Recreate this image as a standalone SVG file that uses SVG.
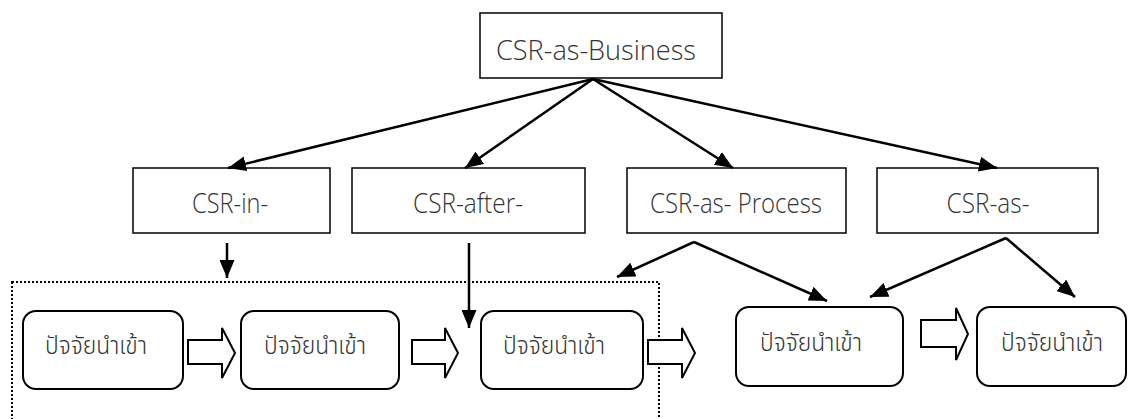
<svg xmlns="http://www.w3.org/2000/svg" width="1128" height="419" viewBox="0 0 1128 419">
<style>
.box{fill:#fff;stroke:#000;stroke-width:1.5}
.rbox{fill:#fff;stroke:#000;stroke-width:2}
.en{font-family:"Open Sans","DejaVu Sans",sans-serif;font-size:27px;font-weight:300;fill:#333}
.th{font-family:"Noto Sans Thai","Noto Sans","DejaVu Sans",sans-serif;font-size:25px;font-weight:300;fill:#333}
.ln{fill:none;stroke:#000;stroke-width:2.5}
.blk{fill:#fff;stroke:#000;stroke-width:2;stroke-linejoin:miter}
.dot{fill:none;stroke:#000;stroke-width:2;stroke-dasharray:2 2}
</style>
<defs>
<marker id="ah" viewBox="0 0 18 15" refX="18" refY="7.5" markerWidth="18" markerHeight="15" markerUnits="userSpaceOnUse" orient="auto">
<path d="M0,0 L18,7.5 L0,15 z" fill="#000"/>
</marker>
</defs>
<rect class="dot" x="12" y="282" width="647" height="160"/>
<g id="n-top">
<rect class="box" x="480" y="13" width="242" height="65"/>
<text class="en" x="596" y="60" text-anchor="middle" textLength="200" lengthAdjust="spacingAndGlyphs">CSR-as-Business</text>
</g>
<g id="n-in">
<rect class="box" x="133" y="168" width="197" height="65"/>
<text class="en" x="230" y="213" text-anchor="middle" textLength="76" lengthAdjust="spacingAndGlyphs">CSR-in-</text>
</g>
<g id="n-after">
<rect class="box" x="352" y="168" width="233" height="65"/>
<text class="en" x="468" y="213" text-anchor="middle" textLength="110" lengthAdjust="spacingAndGlyphs">CSR-after-</text>
</g>
<g id="n-process">
<rect class="box" x="627" y="168" width="219" height="65"/>
<text class="en" x="736" y="213" text-anchor="middle" textLength="172" lengthAdjust="spacingAndGlyphs">CSR-as- Process</text>
</g>
<g id="n-as">
<rect class="box" x="877" y="168" width="221" height="65"/>
<text class="en" x="988" y="213" text-anchor="middle" textLength="83" lengthAdjust="spacingAndGlyphs">CSR-as-</text>
</g>
<g id="n-b1">
<rect class="rbox" x="23" y="311" width="160" height="78" rx="13"/>
<text class="th" x="45" y="354" textLength="102" lengthAdjust="spacingAndGlyphs">ปัจจัยนำเข้า</text>
</g>
<g id="n-b2">
<rect class="rbox" x="241" y="311" width="158" height="78" rx="13"/>
<text class="th" x="264" y="354" textLength="102" lengthAdjust="spacingAndGlyphs">ปัจจัยนำเข้า</text>
</g>
<g id="n-b3">
<rect class="rbox" x="481" y="311" width="162" height="78" rx="13"/>
<text class="th" x="503" y="354" textLength="102" lengthAdjust="spacingAndGlyphs">ปัจจัยนำเข้า</text>
</g>
<g id="n-b4">
<rect class="rbox" x="736" y="307" width="167" height="79" rx="13"/>
<text class="th" x="760" y="351" textLength="102" lengthAdjust="spacingAndGlyphs">ปัจจัยนำเข้า</text>
</g>
<g id="n-b5">
<rect class="rbox" x="977" y="307" width="149" height="79" rx="13"/>
<text class="th" x="1001" y="351" textLength="102" lengthAdjust="spacingAndGlyphs">ปัจจัยนำเข้า</text>
</g>
<g id="connectors">
<line class="ln" x1="593" y1="79" x2="228" y2="168" marker-end="url(#ah)"/>
<line class="ln" x1="593" y1="79" x2="465" y2="168" marker-end="url(#ah)"/>
<line class="ln" x1="593" y1="79" x2="733" y2="168" marker-end="url(#ah)"/>
<line class="ln" x1="593" y1="79" x2="997" y2="168" marker-end="url(#ah)"/>
<line class="ln" x1="227" y1="243" x2="227" y2="278" marker-end="url(#ah)"/>
<line class="ln" x1="469" y1="243" x2="469" y2="328" marker-end="url(#ah)"/>
<line class="ln" x1="694" y1="242" x2="617" y2="277" marker-end="url(#ah)"/>
<line class="ln" x1="694" y1="242" x2="827" y2="301" marker-end="url(#ah)"/>
<line class="ln" x1="1006" y1="238" x2="870" y2="297" marker-end="url(#ah)"/>
<line class="ln" x1="1006" y1="238" x2="1075" y2="297" marker-end="url(#ah)"/>
<path class="blk" d="M188,340 H222 V328 L235,353 L222,378 V364 H188 Z"/>
<path class="blk" d="M412,340 H445 V328 L458,353 L445,378 V364 H412 Z"/>
<path class="blk" d="M648,340 H682 V328 L695,353 L682,378 V364 H648 Z"/>
<path class="blk" d="M921,320 H956 V308 L968,334 L956,360 V347 H921 Z"/>
</g>
</svg>
